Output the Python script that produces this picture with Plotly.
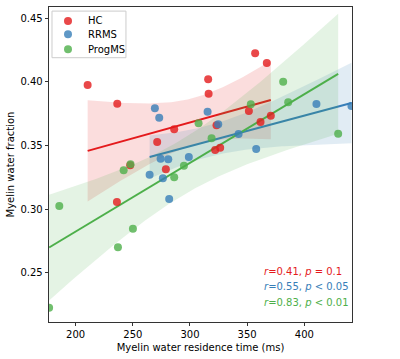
import numpy as np
import plotly.graph_objects as go

# ---- data ----
groups = ["HC", "RRMS", "ProgMS"]
colors = {"HC": "#e41a1c", "RRMS": "#377eb8", "ProgMS": "#4daf4a"}
rgb = {"HC": (228, 26, 28), "RRMS": (55, 126, 184), "ProgMS": (77, 175, 74)}

hc_x = [210.5, 236.4, 315.9, 316.3, 357.0, 367.2, 351.5, 370.7, 286.2, 323.2,
        361.7, 271.3, 322.0, 326.4, 247.7, 278.9, 236.1]
hc_y = [0.3976, 0.3829, 0.4020, 0.3907, 0.4225, 0.4149, 0.3771, 0.3734, 0.3627, 0.3659,
        0.3685, 0.3528, 0.3465, 0.3483, 0.3344, 0.3313, 0.3056]

rr_x = [269.3, 273.1, 315.4, 410.6, 441.2, 324.7, 342.5, 357.9, 274.3, 281.0,
        299.0, 264.7, 276.3, 281.8]
rr_y = [0.3792, 0.3719, 0.3766, 0.3826, 0.3810, 0.3667, 0.3590, 0.3473, 0.3396, 0.3391,
        0.3410, 0.3270, 0.3242, 0.3080]

pm_x = [176.8, 185.7, 237.0, 242.0, 248.0, 250.1, 286.2, 294.7, 307.5, 318.9,
        353.2, 381.5, 385.9, 429.6]
pm_y = [0.2225, 0.3024, 0.2700, 0.3305, 0.3352, 0.2846, 0.3250, 0.3341, 0.3675, 0.3557,
        0.3824, 0.4002, 0.3840, 0.3593]

stats_text = {
    "HC": "<i>r</i>=0.41, <i>p</i> = 0.1",
    "RRMS": "<i>r</i>=0.55, <i>p</i> &lt; 0.05",
    "ProgMS": "<i>r</i>=0.83, <i>p</i> &lt; 0.01",
}
# band width multipliers (approximating the bootstrap CI widths seen in the reference)
ci_mult = {"HC": 2.6, "RRMS": 2.2, "ProgMS": 2.9}

data = {"HC": (hc_x, hc_y), "RRMS": (rr_x, rr_y), "ProgMS": (pm_x, pm_y)}

x_range = [176.7, 441.7]
y_range = [0.2112, 0.4589]

FONT = "DejaVu Sans"
fig = go.Figure()

# regression bands + lines
for g in groups:
    x = np.array(data[g][0]); y = np.array(data[g][1])
    b, a = np.polyfit(x, y, 1)
    xs = np.linspace(x.min(), x.max(), 100)
    yh = a + b * xs
    n = len(x)
    resid = y - (a + b * x)
    s = np.sqrt(np.sum(resid ** 2) / (n - 2))
    sxx = np.sum((x - x.mean()) ** 2)
    se = s * np.sqrt(1.0 / n + (xs - x.mean()) ** 2 / sxx)
    lo = yh - ci_mult[g] * se
    hi = yh + ci_mult[g] * se
    r_, g_, b_ = rgb[g]
    fig.add_trace(go.Scatter(
        x=np.concatenate([xs, xs[::-1]]), y=np.concatenate([hi, lo[::-1]]),
        fill="toself", fillcolor=f"rgba({r_},{g_},{b_},0.15)",
        line=dict(width=0), mode="lines", hoverinfo="skip", showlegend=False))
    fig.add_trace(go.Scatter(
        x=xs, y=yh, mode="lines", line=dict(color=colors[g], width=2),
        showlegend=False, hoverinfo="skip"))

# points
for g in groups:
    r_, g_, b_ = rgb[g]
    fig.add_trace(go.Scatter(
        x=data[g][0], y=data[g][1], mode="markers", name=g, showlegend=False,
        marker=dict(size=8, color=f"rgba({r_},{g_},{b_},0.8)", line=dict(width=0))))

# ---- legend drawn in plot-fraction coordinates (overlay axes) ----
leg_y = [0.9556, 0.9133, 0.8657]
fig.add_shape(type="rect", xref="paper", yref="paper", x0=0.0099, x1=0.254,
              y0=0.839, y1=0.987, line=dict(color="#cccccc", width=1),
              fillcolor="white", layer="below")
for g, yy in zip(groups, leg_y):
    r_, g_, b_ = rgb[g]
    fig.add_trace(go.Scatter(
        x=[0.0627], y=[yy], xaxis="x2", yaxis="y2", mode="markers", name=g,
        showlegend=False, hoverinfo="skip",
        marker=dict(size=8, color=f"rgba({r_},{g_},{b_},0.8)", line=dict(width=0))))
    fig.add_annotation(xref="paper", yref="paper", x=0.121, y=yy, xanchor="left",
                       yanchor="middle", text=g, showarrow=False,
                       font=dict(color="black", size=10, family=FONT))

# stats annotations
ys = [0.16, 0.112, 0.0625]
for g, yy in zip(groups, ys):
    fig.add_annotation(xref="paper", yref="paper", x=0.702, y=yy, xanchor="left",
                       yanchor="middle", text=stats_text[g], showarrow=False,
                       font=dict(color=colors[g], size=10, family=FONT))

axis_common = dict(showline=True, linecolor="black", linewidth=0.8, mirror=True,
                   ticks="outside", ticklen=3.5, tickwidth=0.8, tickcolor="black",
                   showgrid=False, zeroline=False,
                   tickfont=dict(size=10, color="black", family=FONT))

fig.update_xaxes(range=x_range, tickvals=[200, 250, 300, 350, 400],
                 title=dict(text="Myelin water residence time (ms)", standoff=4,
                            font=dict(size=10, color="black", family=FONT)),
                 **axis_common)
fig.update_yaxes(range=y_range, tickvals=[0.25, 0.30, 0.35, 0.40, 0.45],
                 tickformat=".2f",
                 title=dict(text="Myelin water fraction", standoff=3,
                            font=dict(size=10, color="black", family=FONT)),
                 **axis_common)

fig.update_layout(
    width=400, height=359,
    margin=dict(l=49, r=48, t=7, b=37),
    plot_bgcolor="white", paper_bgcolor="white",
    font=dict(family=FONT, size=10, color="black"),
    showlegend=False,
    hovermode=False,
    xaxis2=dict(overlaying="x", range=[0, 1], visible=False, fixedrange=True),
    yaxis2=dict(overlaying="y", range=[0, 1], visible=False, fixedrange=True),
)

fig.write_html("out.html", config={"displayModeBar": False, "staticPlot": True},
               post_script="document.body.style.margin='0px';document.body.style.overflow='hidden';")
